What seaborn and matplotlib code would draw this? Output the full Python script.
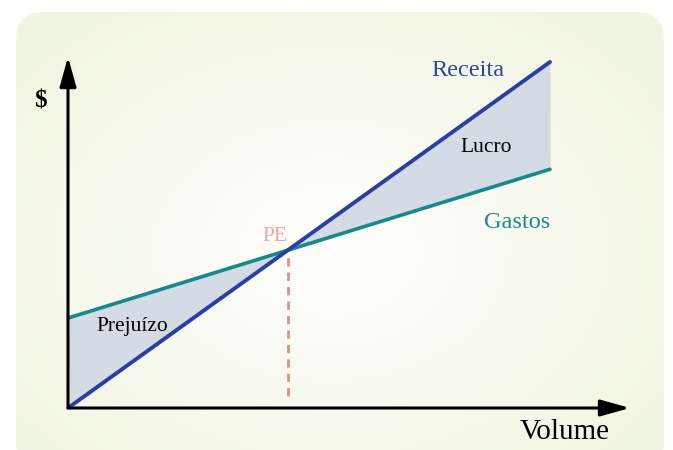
import numpy as np
import matplotlib
matplotlib.use("Agg")
import matplotlib.pyplot as plt
import seaborn as sns
import pandas as pd
from matplotlib.patches import FancyBboxPatch

sns.set_theme(style="white")
plt.rcParams['font.family'] = ['Liberation Serif', 'DejaVu Serif']

# Data
volume = [0, 100]
receita = [0, 100]
gastos = [26, 69]
pe_x = 26 / (1 - (69 - 26) / 100)
pe_y = pe_x

W, H = 673, 450
fig = plt.figure(figsize=(W / 100, H / 100), dpi=100)
fig.patch.set_facecolor("white")

# Background rounded panel with soft radial gradient
bg = fig.add_axes([0, 0, 1, 1])
bg.set_xlim(0, W)
bg.set_ylim(H, 0)
bg.axis("off")
yy, xx = np.mgrid[0:H, 0:W]
d = np.sqrt(((xx - 330) / 380) ** 2 + ((yy - 250) / 280) ** 2)
d = np.clip(d, 0, 1) ** 1.3
c_in = np.array([0.995, 0.998, 0.985])
c_out = np.array([0.945, 0.962, 0.885])
img = c_in[None, None, :] * (1 - d[..., None]) + c_out[None, None, :] * d[..., None]
im = bg.imshow(img, extent=(0, W, H, 0), aspect="auto", zorder=0)
panel = FancyBboxPatch((16, 12), 648, 460, boxstyle="round,pad=0,rounding_size=28",
                       transform=bg.transData, facecolor="none", edgecolor="none")
bg.add_patch(panel)
im.set_clip_path(panel)

# Main axes
x0, x1 = 68, 630
ytop, ybot = 57, 408
ax = fig.add_axes([x0 / W, (H - ybot) / H, (x1 - x0) / W, (ybot - ytop) / H])
ax.patch.set_alpha(0)
px_per_x = (550 - 68) / 100
px_per_y = (408 - 62) / 100
ax.set_xlim(0, (x1 - x0) / px_per_x)
ax.set_ylim(0, (ybot - ytop) / px_per_y)
for s in ax.spines.values():
    s.set_visible(False)
ax.set_xticks([])
ax.set_yticks([])

df = pd.DataFrame({"Volume": volume, "Receita": receita, "Gastos": gastos})
xs = np.linspace(0, 100, 201)
r = np.interp(xs, volume, receita)
g = np.interp(xs, volume, gastos)
ax.fill_between(xs, r, g, color="#d3dbe5", lw=0, zorder=1)

sns.lineplot(data=df, x="Volume", y="Gastos", ax=ax, color="#17898b", lw=2.6, zorder=3)
sns.lineplot(data=df, x="Volume", y="Receita", ax=ax, color="#2a3ea3", lw=2.8, zorder=4)
ax.set_xlabel("")
ax.set_ylabel("")

ax.plot([pe_x, pe_x], [3.5, pe_y - 1.5], color="#ee8a84", lw=2.0, ls=(0, (3, 2.2)), zorder=2)

# axes with arrows
ax.annotate("", xy=(1.0, 0), xytext=(0, 0), xycoords="axes fraction",
            arrowprops=dict(arrowstyle="-|>,head_length=1.5,head_width=0.42", color="black", lw=2.2,
                            shrinkA=0, shrinkB=0), zorder=5)
ax.annotate("", xy=(0, 1.0), xytext=(0, 0), xycoords="axes fraction",
            arrowprops=dict(arrowstyle="-|>,head_length=1.5,head_width=0.42", color="black", lw=2.2,
                            shrinkA=0, shrinkB=0), zorder=5)

# Labels (figure pixel coords)
def ftext(x, y, s, **kw):
    fig.text(x / W, 1 - y / H, s, **kw)

ftext(40, 101, "$", fontsize=18, color="black", ha="center", va="center", fontweight="bold")
ftext(565, 432, "Volume", fontsize=21, color="black", ha="center", va="center")
ftext(468, 70, "Receita", fontsize=17.5, color="#2a48a0", ha="center", va="center")
ftext(486, 148, "Lucro", fontsize=15.5, color="black", ha="center", va="center")
ftext(517, 223, "Gastos", fontsize=17.5, color="#1e8a8a", ha="center", va="center")
ftext(275, 236, "PE", fontsize=15.5, color="#f0a3a3", ha="center", va="center")
ftext(132, 326, "Prejuízo", fontsize=15.5, color="black", ha="center", va="center")

fig.savefig("out.png", dpi=100, facecolor=fig.get_facecolor())
